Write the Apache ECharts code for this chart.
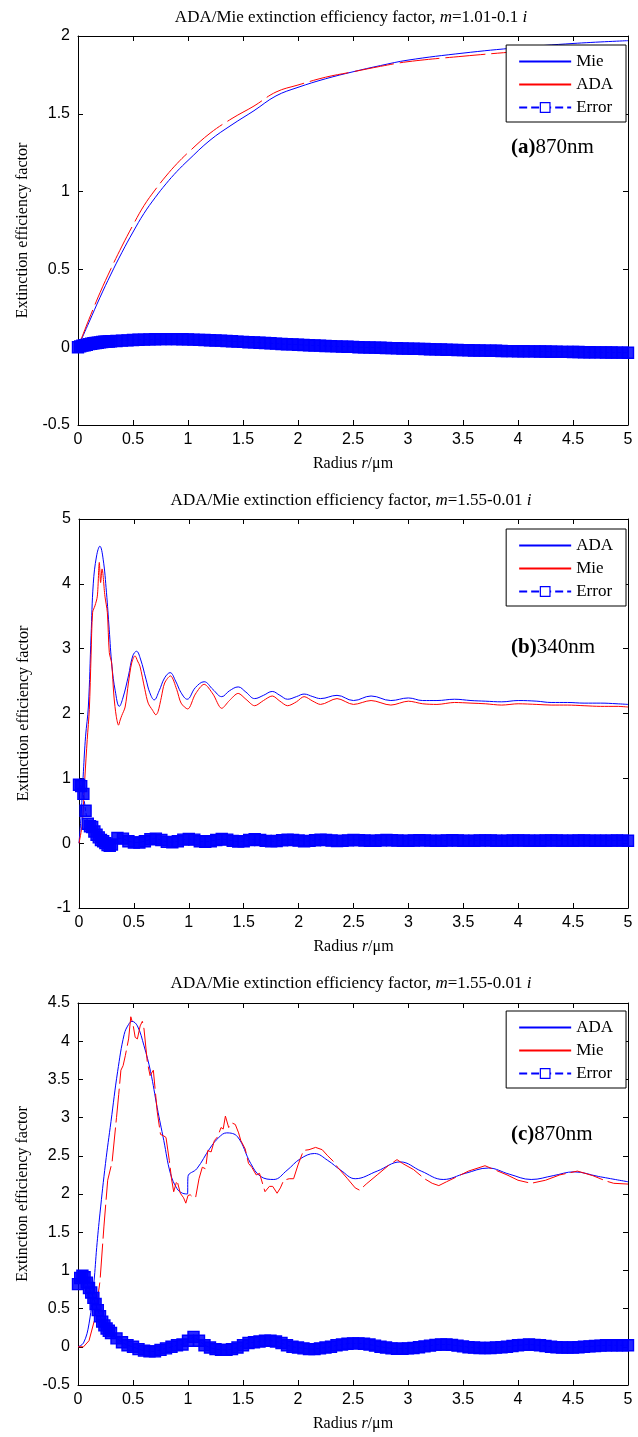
<!DOCTYPE html>
<html>
<head>
<meta charset="utf-8">
<title>ADA/Mie extinction efficiency factor</title>
<script src="https://cdn.jsdelivr.net/npm/echarts@6/dist/echarts.min.js"></script>
<style>
  body { margin: 0; background: #fff; }
  .panel { width: 638px; }
</style>
</head>
<body>
<div id="chartA" class="panel" style="height:483px"></div>
<div id="chartB" class="panel" style="height:483px"></div>
<div id="chartC" class="panel" style="height:471px"></div>
<script>
  // ---- (a) 870nm, m = 1.01-0.1i ----
  var aR = [0, 0.05, 0.1, 0.2, 0.3, 0.4, 0.5, 0.6, 0.7, 0.8, 0.9, 1.0, 1.2, 1.4, 1.6, 1.8, 2.0, 2.25, 2.5, 2.75, 3.0, 3.5, 4.0, 4.5, 5.0]
  var aMie = [0, 0.08, 0.16, 0.32, 0.47, 0.61, 0.74, 0.86, 0.96, 1.05, 1.13, 1.2, 1.33, 1.43, 1.52, 1.615, 1.67, 1.725, 1.77, 1.81, 1.845, 1.89, 1.925, 1.952, 1.97]
  var aAda = [0, 0.09, 0.18, 0.35, 0.505, 0.65, 0.785, 0.91, 1.01, 1.10, 1.18, 1.25, 1.375, 1.47, 1.55, 1.64, 1.685, 1.735, 1.77, 1.805, 1.835, 1.87, 1.90, 1.925, 1.94]

  // ---- (b) 340nm, m = 1.55-0.01i ----
  var bAdaR = [0, 0.02, 0.04, 0.06, 0.085, 0.11, 0.13, 0.16, 0.19, 0.22, 0.25, 0.275, 0.3, 0.33, 0.367, 0.4, 0.45, 0.49, 0.524, 0.56, 0.61, 0.645, 0.685, 0.73, 0.78, 0.83, 0.88, 0.93, 0.985, 1.06, 1.14, 1.22, 1.3, 1.37, 1.45, 1.52, 1.6, 1.68, 1.76, 1.83, 1.9, 1.98, 2.05, 2.13, 2.2, 2.35, 2.5, 2.66, 2.84, 3.0, 3.13, 3.26, 3.42, 3.57, 3.7, 3.85, 4.0, 4.17, 4.3, 4.45, 4.6, 4.75, 4.9, 5.0]
  var bAda = [0, 0.45, 1.1, 1.65, 2.1, 3.2, 4.0, 4.43, 4.58, 4.38, 3.87, 3.3, 2.73, 2.35, 2.11, 2.24, 2.58, 2.89, 2.96, 2.84, 2.53, 2.32, 2.21, 2.35, 2.55, 2.63, 2.5, 2.32, 2.22, 2.4, 2.49, 2.37, 2.26, 2.35, 2.41, 2.33, 2.23, 2.28, 2.34, 2.28, 2.22, 2.26, 2.3, 2.26, 2.23, 2.28, 2.2, 2.27, 2.2, 2.24, 2.2, 2.2, 2.22, 2.2, 2.19, 2.18, 2.2, 2.19, 2.17, 2.17, 2.16, 2.16, 2.15, 2.14]
  var bMieR = [0, 0.03, 0.053, 0.075, 0.094, 0.11, 0.124, 0.145, 0.167, 0.185, 0.197, 0.21, 0.236, 0.258, 0.276, 0.297, 0.318, 0.34, 0.36, 0.375, 0.39, 0.42, 0.45, 0.48, 0.51, 0.533, 0.555, 0.6, 0.63, 0.67, 0.7, 0.72, 0.75, 0.78, 0.833, 0.89, 0.93, 0.99, 1.06, 1.14, 1.22, 1.3, 1.37, 1.45, 1.52, 1.6, 1.68, 1.76, 1.83, 1.9, 1.98, 2.05, 2.13, 2.2, 2.35, 2.5, 2.66, 2.84, 3.0, 3.13, 3.26, 3.42, 3.57, 3.7, 3.85, 4.0, 4.17, 4.3, 4.45, 4.6, 4.75, 4.9, 5.0]
  var bMie = [0, 0.3, 1.0, 1.6, 2.06, 2.9, 3.56, 3.66, 3.81, 4.33, 4.02, 4.23, 3.81, 3.56, 2.94, 2.78, 2.27, 1.95, 1.82, 1.9, 1.97, 2.1, 2.47, 2.78, 2.89, 2.81, 2.73, 2.37, 2.16, 2.05, 1.98, 2.03, 2.25, 2.47, 2.58, 2.37, 2.16, 2.07, 2.3, 2.45, 2.3, 2.08, 2.2, 2.31, 2.22, 2.12, 2.2, 2.27, 2.19, 2.12, 2.18, 2.26, 2.19, 2.14, 2.23, 2.14, 2.2, 2.13, 2.19, 2.15, 2.14, 2.17, 2.16, 2.15, 2.13, 2.15, 2.14, 2.13, 2.13, 2.12, 2.11, 2.11, 2.1]

  // ---- (c) 870nm, m = 1.55-0.01i ----
  var cAdaR = [0, 0.05, 0.1, 0.145, 0.17, 0.2, 0.25, 0.3, 0.36, 0.42, 0.46, 0.49, 0.54, 0.6, 0.66, 0.72, 0.78, 0.84, 0.9, 0.95, 0.995, 1.0, 1.08, 1.2, 1.28, 1.35, 1.45, 1.57, 1.66, 1.78, 1.9, 2.02, 2.15, 2.27, 2.39, 2.52, 2.72, 2.93, 3.12, 3.32, 3.52, 3.73, 3.92, 4.12, 4.32, 4.51, 4.73, 5.0]
  var cAda = [0, 0.05, 0.3, 0.85, 1.3, 1.75, 2.4, 2.95, 3.6, 4.09, 4.22, 4.26, 4.2, 3.94, 3.6, 3.13, 2.7, 2.27, 2.07, 2.01, 2.0, 2.23, 2.33, 2.6, 2.74, 2.8, 2.75, 2.4, 2.23, 2.19, 2.31, 2.46, 2.53, 2.44, 2.31, 2.2, 2.3, 2.42, 2.3, 2.19, 2.27, 2.34, 2.26, 2.19, 2.24, 2.29, 2.23, 2.16]
  var cMieR = [0, 0.05, 0.1, 0.15, 0.18, 0.2, 0.236, 0.27, 0.31, 0.35,
    0.37, 0.39, 0.41, 0.43, 0.46, 0.48, 0.5, 0.52, 0.54, 0.565,
    0.585, 0.6, 0.63, 0.655, 0.685, 0.72, 0.75, 0.78, 0.8, 0.83,
    0.85, 0.87, 0.9, 0.93, 0.96, 0.98, 1.0, 1.02, 1.05, 1.07,
    1.1, 1.13, 1.16, 1.18, 1.21, 1.24, 1.27, 1.3, 1.32, 1.34,
    1.37, 1.4, 1.43, 1.46, 1.48, 1.52, 1.55, 1.58, 1.62, 1.65,
    1.7, 1.74, 1.77, 1.81, 1.84, 1.87, 1.92, 1.96, 2.0, 2.05,
    2.1, 2.16, 2.22, 2.27, 2.32, 2.36, 2.45, 2.52, 2.56, 2.62,
    2.72, 2.82, 2.9, 2.95, 3.05, 3.15, 3.22, 3.28, 3.35, 3.45,
    3.55, 3.7, 3.8, 3.9, 4.0, 4.12, 4.25, 4.38, 4.54, 4.68,
    4.8, 4.87, 5.0]
  var cMie = [0, 0.0, 0.08, 0.35, 0.65, 0.86, 1.58, 2.18, 2.42, 3.0,
    3.3, 3.62, 3.68, 3.81, 4.03, 4.32, 4.22, 4.05, 4.03, 4.2,
    4.26, 4.16, 3.73, 3.55, 3.62, 3.08, 2.78, 2.76, 2.74, 2.44,
    2.2, 2.03, 2.18, 2.01, 1.95, 1.88, 1.98, 1.99, 1.95, 1.96,
    2.2, 2.35, 2.33, 2.57, 2.55, 2.7, 2.75, 2.87, 2.85, 3.02,
    2.87, 2.93, 2.91, 2.8, 2.7, 2.59, 2.4, 2.35, 2.25, 2.27,
    2.03, 2.1, 2.1, 2.01, 2.08, 2.18, 2.2, 2.2, 2.38, 2.57,
    2.58, 2.61, 2.58, 2.5, 2.43, 2.35, 2.2, 2.08, 2.05, 2.13,
    2.25, 2.37, 2.45, 2.4, 2.32, 2.2, 2.14, 2.11, 2.16, 2.23,
    2.3, 2.37, 2.31, 2.25, 2.18, 2.14, 2.18, 2.25, 2.3, 2.24,
    2.17, 2.14, 2.13]

  // ---- Error curves (shared radius grid) ----
  var errR = [0, 0.02, 0.04, 0.06, 0.08, 0.1, 0.12, 0.14, 0.16, 0.18, 0.2, 0.22, 0.24, 0.26, 0.28, 0.3,
    0.35, 0.4, 0.45, 0.5, 0.55, 0.6, 0.65, 0.7, 0.75, 0.8,
    0.85, 0.9, 0.95, 1.0, 1.05, 1.1, 1.15, 1.2, 1.25, 1.3,
    1.35, 1.4, 1.45, 1.5, 1.55, 1.6, 1.65, 1.7, 1.75, 1.8,
    1.85, 1.9, 1.95, 2.0, 2.05, 2.1, 2.15, 2.2, 2.25, 2.3,
    2.35, 2.4, 2.45, 2.5, 2.55, 2.6, 2.65, 2.7, 2.75, 2.8,
    2.85, 2.9, 2.95, 3.0, 3.05, 3.1, 3.15, 3.2, 3.25, 3.3,
    3.35, 3.4, 3.45, 3.5, 3.55, 3.6, 3.65, 3.7, 3.75, 3.8,
    3.85, 3.9, 3.95, 4.0, 4.05, 4.1, 4.15, 4.2, 4.25, 4.3,
    4.35, 4.4, 4.45, 4.5, 4.55, 4.6, 4.65, 4.7, 4.75, 4.8,
    4.85, 4.9, 4.95, 5.0]
  var errA = [0, 0.005, 0.01, 0.013, 0.016, 0.02, 0.022, 0.025, 0.027, 0.029, 0.031, 0.033, 0.035, 0.036, 0.037, 0.038,
    0.04, 0.042, 0.044, 0.046, 0.048, 0.049, 0.05, 0.051, 0.052, 0.052,
    0.052, 0.052, 0.051, 0.05, 0.049, 0.047, 0.046, 0.045, 0.043, 0.042,
    0.04, 0.038, 0.036, 0.034, 0.032, 0.031, 0.029, 0.027, 0.025, 0.023,
    0.021, 0.019, 0.018, 0.016, 0.014, 0.013, 0.011, 0.01, 0.008, 0.007,
    0.005, 0.004, 0.003, 0.002, 0, -0.001, -0.002, -0.003, -0.004, -0.005,
    -0.006, -0.007, -0.008, -0.009, -0.01, -0.011, -0.012, -0.013, -0.014, -0.015,
    -0.016, -0.017, -0.018, -0.019, -0.02, -0.021, -0.021, -0.022, -0.023, -0.023,
    -0.024, -0.025, -0.025, -0.026, -0.026, -0.027, -0.027, -0.028, -0.028, -0.029,
    -0.029, -0.03, -0.03, -0.031, -0.031, -0.032, -0.032, -0.033, -0.033, -0.034,
    -0.034, -0.035, -0.035, -0.036]
  var errB = [0.9, 0.88, 0.76, 0.5, 0.3, 0.26, 0.25, 0.18, 0.13, 0.09, 0.05, 0.03, 0.0, -0.03, -0.04, -0.02,
    0.08, 0.07, 0.03, 0.01, 0.01, 0.03, 0.06, 0.07, 0.05, 0.02,
    0.015, 0.03, 0.055, 0.065, 0.055, 0.03, 0.02, 0.03, 0.05, 0.065,
    0.055, 0.035, 0.025, 0.03, 0.05, 0.06, 0.05, 0.035, 0.028, 0.033,
    0.045, 0.055, 0.05, 0.04, 0.03, 0.035, 0.045, 0.052, 0.048, 0.04,
    0.033, 0.035, 0.043, 0.05, 0.047, 0.04, 0.035, 0.037, 0.043, 0.048,
    0.045, 0.04, 0.036, 0.037, 0.042, 0.045, 0.043, 0.039, 0.036, 0.038,
    0.042, 0.044, 0.041, 0.038, 0.036, 0.038, 0.041, 0.043, 0.041, 0.038,
    0.036, 0.038, 0.041, 0.042, 0.04, 0.038, 0.037, 0.038, 0.04, 0.041,
    0.04, 0.038, 0.037, 0.038, 0.04, 0.04, 0.039, 0.038, 0.037, 0.038,
    0.039, 0.04, 0.039, 0.038]
  var errC = [0.82, 0.9, 0.93, 0.91, 0.84, 0.77, 0.71, 0.64, 0.56, 0.48, 0.4, 0.33, 0.28, 0.24, 0.21, 0.18,
    0.11, 0.06, 0.02, 0.0, -0.03, -0.05, -0.06, -0.06, -0.04, -0.02,
    0.0, 0.02, 0.03, 0.08, 0.13, 0.08, 0.02, -0.01, -0.03, -0.04,
    -0.04, -0.03, -0.01, 0.02, 0.05, 0.06, 0.07, 0.08, 0.08, 0.07,
    0.05, 0.02, 0.0, -0.01, -0.02, -0.03, -0.03, -0.02, -0.01, 0.0,
    0.02, 0.03, 0.04, 0.045, 0.045, 0.04, 0.03, 0.015, 0.0, -0.01,
    -0.02, -0.025, -0.025, -0.02, -0.015, -0.005, 0.005, 0.015, 0.025, 0.03,
    0.03, 0.025, 0.015, 0.005, -0.005, -0.01, -0.015, -0.015, -0.015, -0.01,
    -0.005, 0.0, 0.01, 0.02, 0.025, 0.03, 0.025, 0.02, 0.01, 0.0,
    -0.005, -0.01, -0.01, -0.01, -0.005, 0.0, 0.005, 0.01, 0.015, 0.02,
    0.02, 0.02, 0.02, 0.02]

  var SERIF = '"Liberation Serif", "Times New Roman", serif'
  var SANS = '"Liberation Sans", Arial, sans-serif'
  var BLUE = '#0000ff'
  var RED = '#ff0000'

  function pairs(xs, ys) {
    return xs.map(function (x, i) { return [x, ys[i]] })
  }

  function edgeAxis(extra) {
    var ax = {
      type: 'value',
      axisLine: { onZero: false, lineStyle: { color: '#000', width: 1 } },
      axisTick: { inside: true, length: 5, lineStyle: { color: '#000' } },
      axisLabel: { show: false },
      splitLine: { show: false }
    }
    for (var k in extra) ax[k] = extra[k]
    return ax
  }

  function makeOption(p) {
    var xRange = { min: 0, max: 5, interval: 0.5 }
    var yRange = { min: p.yMin, max: p.yMax, interval: p.yStep }
    var tickLabel = { show: true, color: '#000', fontFamily: SANS, fontSize: 16, margin: 7 }
    var plain = { fontFamily: SERIF, fontSize: 16, fontWeight: 'normal', color: '#000' }
    var titleFont = Object.assign({}, plain, { fontSize: 17 })
    return {
      animation: false,
      backgroundColor: '#fff',
      title: [{
        text: '{n|ADA/Mie extinction efficiency factor, }{i|m}{n|=' + p.m + '}{i| i}',
        left: 351, top: 9, padding: 0, textAlign: 'center',
        textStyle: {
          fontWeight: 'normal',
          rich: {
            n: titleFont,
            i: Object.assign({}, titleFont, { fontStyle: 'italic' })
          }
        }
      }, {
        text: '{b|' + p.tag + '}{n|' + p.wave + '}',
        left: 511, top: p.tagTop, padding: 0,
        textStyle: {
          fontWeight: 'normal',
          rich: {
            b: { fontFamily: SERIF, fontSize: 21, fontWeight: 'bold', color: '#000' },
            n: { fontFamily: SERIF, fontSize: 21, fontWeight: 'normal', color: '#000' }
          }
        }
      }],
      legend: {
        orient: 'vertical', right: 12, top: p.legendTop,
        backgroundColor: '#fff', borderColor: '#000', borderWidth: 1,
        padding: [8, 13, 6, 12], itemGap: 6, itemWidth: 52, itemHeight: 12,
        textStyle: { fontFamily: SERIF, fontSize: 17, color: '#000' },
        data: [
          { name: p.names[0], itemStyle: { opacity: 0 }, lineStyle: { type: 'solid' } },
          { name: p.names[1], itemStyle: { opacity: 0 }, lineStyle: { type: 'solid' } },
          { name: 'Error', itemStyle: { color: '#fff', borderColor: BLUE, borderWidth: 1.2 } }
        ]
      },
      grid: { left: p.left, right: 10, top: p.top, height: 389 },
      xAxis: [
        edgeAxis(Object.assign({
          position: 'bottom', axisLabel: tickLabel,
          name: '{t|Radius }{i|r}{t|/μm}', nameLocation: 'middle', nameGap: 31,
          nameTextStyle: {
            rich: {
              t: plain,
              i: Object.assign({}, plain, { fontStyle: 'italic' })
            }
          }
        }, xRange)),
        edgeAxis(Object.assign({ position: 'top' }, xRange))
      ],
      yAxis: [
        edgeAxis(Object.assign({
          position: 'left', axisLabel: Object.assign({}, tickLabel, { margin: 8 }),
          name: 'Extinction efficiency factor', nameLocation: 'middle', nameGap: 47,
          nameTextStyle: plain
        }, yRange)),
        edgeAxis(Object.assign({ position: 'right' }, yRange))
      ],
      series: [{
        name: p.names[0], type: 'line', data: pairs(p.blueR, p.blue),
        symbol: 'none', smooth: 0.4,
        lineStyle: { color: BLUE, width: 1 }, itemStyle: { color: BLUE }
      }, {
        name: p.names[1], type: 'line', data: pairs(p.redR, p.red),
        symbol: 'none', smooth: p.redSmooth,
        lineStyle: { color: RED, width: 1, type: p.redDash }, itemStyle: { color: RED }
      }, {
        name: 'Error', type: 'line', data: pairs(errR, p.err),
        symbol: 'rect', symbolSize: 11, showAllSymbol: true, clip: false,
        lineStyle: { color: BLUE, width: 1, type: 'dashed' },
        itemStyle: { color: 'rgba(0,0,255,0.85)', borderColor: BLUE, borderWidth: 1.4 }
      }]
    }
  }

  var panels = [{
    id: 'chartA', m: '1.01-0.1', tag: '(a)', wave: '870nm', tagTop: 137, legendTop: 45,
    left: 78, top: 36, yMin: -0.5, yMax: 2, yStep: 0.5,
    names: ['Mie', 'ADA'], blueR: aR, blue: aMie, redR: aR, red: aAda,
    redSmooth: 0.4, redDash: [40, 6], err: errA
  }, {
    id: 'chartB', m: '1.55-0.01', tag: '(b)', wave: '340nm', tagTop: 154, legendTop: 46,
    left: 79, top: 36, yMin: -1, yMax: 5, yStep: 1,
    names: ['ADA', 'Mie'], blueR: bAdaR, blue: bAda, redR: bMieR, red: bMie,
    redSmooth: 0.3, redDash: 'solid', err: errB
  }, {
    id: 'chartC', m: '1.55-0.01', tag: '(c)', wave: '870nm', tagTop: 158, legendTop: 45,
    left: 78, top: 37, yMin: -0.5, yMax: 4.5, yStep: 0.5,
    names: ['ADA', 'Mie'], blueR: cAdaR, blue: cAda, redR: cMieR, red: cMie,
    redSmooth: false, redDash: [34, 5], err: errC
  }]

  panels.forEach(function (p) {
    var chart = echarts.init(document.getElementById(p.id), null, { renderer: 'canvas' })
    chart.setOption(makeOption(p))
  })
</script>
</body>
</html>
